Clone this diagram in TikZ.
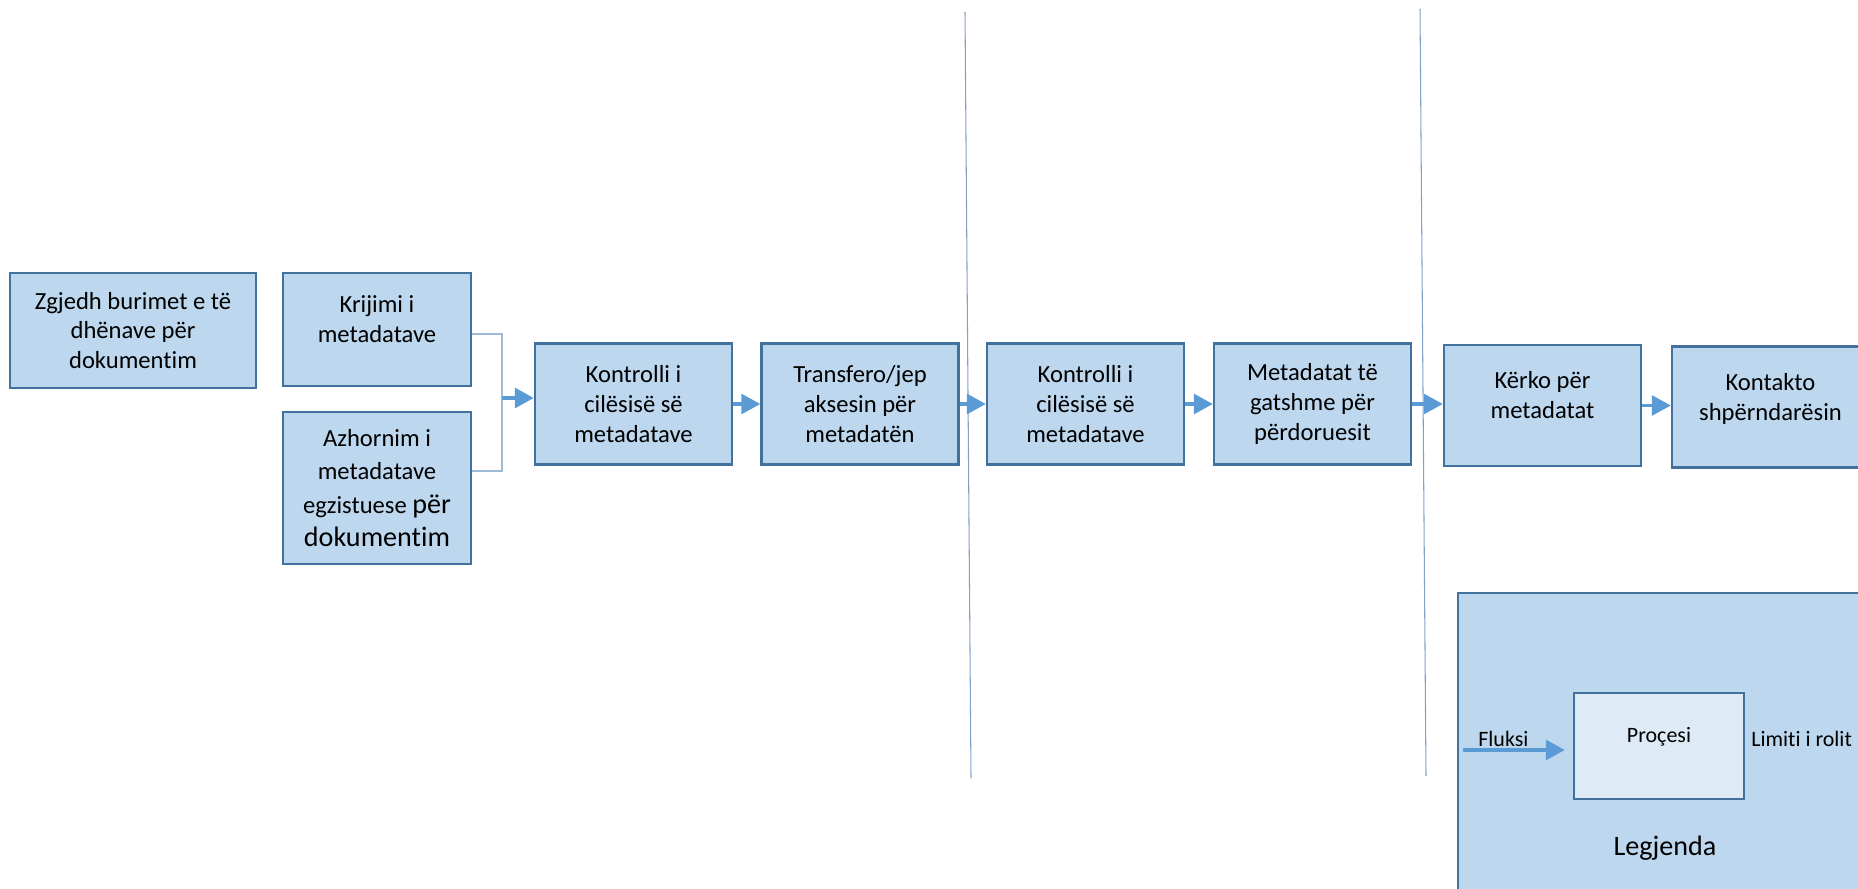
\documentclass[tikz,border=0pt]{standalone}
\usepackage{fontspec}
\setmainfont{Carlito}[Ligatures=NoCommon]
\usepackage{tikz}
\usetikzlibrary{arrows.meta, positioning}
\definecolor{boxfill}{HTML}{BDD7EE}
\definecolor{boxline}{HTML}{41719C}
\definecolor{flowblue}{HTML}{5B9BD5}
\definecolor{joinblue}{HTML}{9CBBD9}
\definecolor{limitblue}{HTML}{7FA3C4}
\definecolor{procfill}{HTML}{DEEBF7}

\begin{document}
\begin{tikzpicture}[x=0.2mm, y=-0.2mm, >={Triangle[length=3.8mm,width=4mm]},
  box/.style={draw=boxline, line width=1.4pt, fill=boxfill, align=center, inner sep=0pt,
    minimum width=39.4mm, minimum height=24.2mm, font=\fontsize{14}{17}\selectfont},
  flow/.style={->, flowblue, line width=1.8pt},
  joinline/.style={joinblue, line width=1pt},
  limit/.style={limitblue, line width=0.6pt},
  small/.style={font=\fontsize{12.5}{15}\selectfont, inner sep=0pt}]
\useasboundingbox (0,0) rectangle (1858,889);
\clip (0,0) rectangle (1858,889);
\draw[limit](965,12)--(971,778);
\draw[limit](1420,9)--(1426,776);
\node[box, minimum width=49.2mm, minimum height=23mm] (zgjedh) at (133,330.5) {Zgjedh burimet e të\\dhënave për\\dokumentim};
\node[box, minimum width=37.6mm, minimum height=22.6mm] (krijimi) at (377,329.5) {Krijimi i\\metadatave\\[-3.6mm]\strut};
\node[box, minimum width=37.6mm, minimum height=30.4mm, font=\fontsize{14}{19}\selectfont] (azhornim) at (377,488) {Azhornim i\\metadatave\\egzistuese {\fontsize{16}{21}\selectfont për}\\{\fontsize{16}{21}\selectfont dokumentim}};
\node[box] (kontrolli1) at (633.5,404) {Kontrolli i\\cilësisë së\\metadatave};
\node[box] (transfero) at (860,404) {Transfero/jep\\aksesin për\\metadatën};
\node[box] (kontrolli2) at (1085.5,404) {Kontrolli i\\cilësisë së\\metadatave};
\node[box] (metadatat) at (1312.5,404) {Metadatat të\\gatshme për\\përdoruesit};
\node[box] (kerko) at (1542.5,405.5) {Kërko për\\metadatat\\[-3.6mm]\strut};
\node[box] (kontakto) at (1770.5,407) {Kontakto\\shpërndarësin\\[-3.6mm]\strut};
\coordinate (jn) at (502,398);
\draw[joinline]([yshift=-0.9mm]krijimi.east)-|(jn)|-([yshift=3.4mm]azhornim.east);
\draw[flow](jn)--(jn-|kontrolli1.west);
\draw[flow](kontrolli1)--(transfero);
\draw[flow](transfero)--(kontrolli2);
\draw[flow](kontrolli2)--(metadatat);
\draw[flow](metadatat.east)--(metadatat.east-|kerko.west);
\draw[flow](kerko.east)--(kerko.east-|kontakto.west);
\node[draw=boxline, line width=1.4pt, fill=boxfill, anchor=north west, minimum width=84mm, minimum height=64mm] (legjbox) at (1457,592) {};
\node[draw=boxline, line width=1.4pt, fill=procfill, minimum width=34mm, minimum height=21.2mm, inner sep=0pt, align=center, font=\fontsize{12.5}{14}\selectfont] (proc) at (1659,746) {Proçesi\\[-2mm]\strut};
\node[small, anchor=base west] (fluksi) at (1478,746) {Fluksi};
\coordinate (fin) at (1463,750);
\draw[flow, shorten >=1.6mm](fin)--(fin-|proc.west);
\node[small, anchor=base west] (limiti) at (1751,746) {Limiti i rolit};
\node[font=\fontsize{16}{19}\selectfont] (legjenda) at (1665,848) {Legjenda};
\end{tikzpicture}
\end{document}
